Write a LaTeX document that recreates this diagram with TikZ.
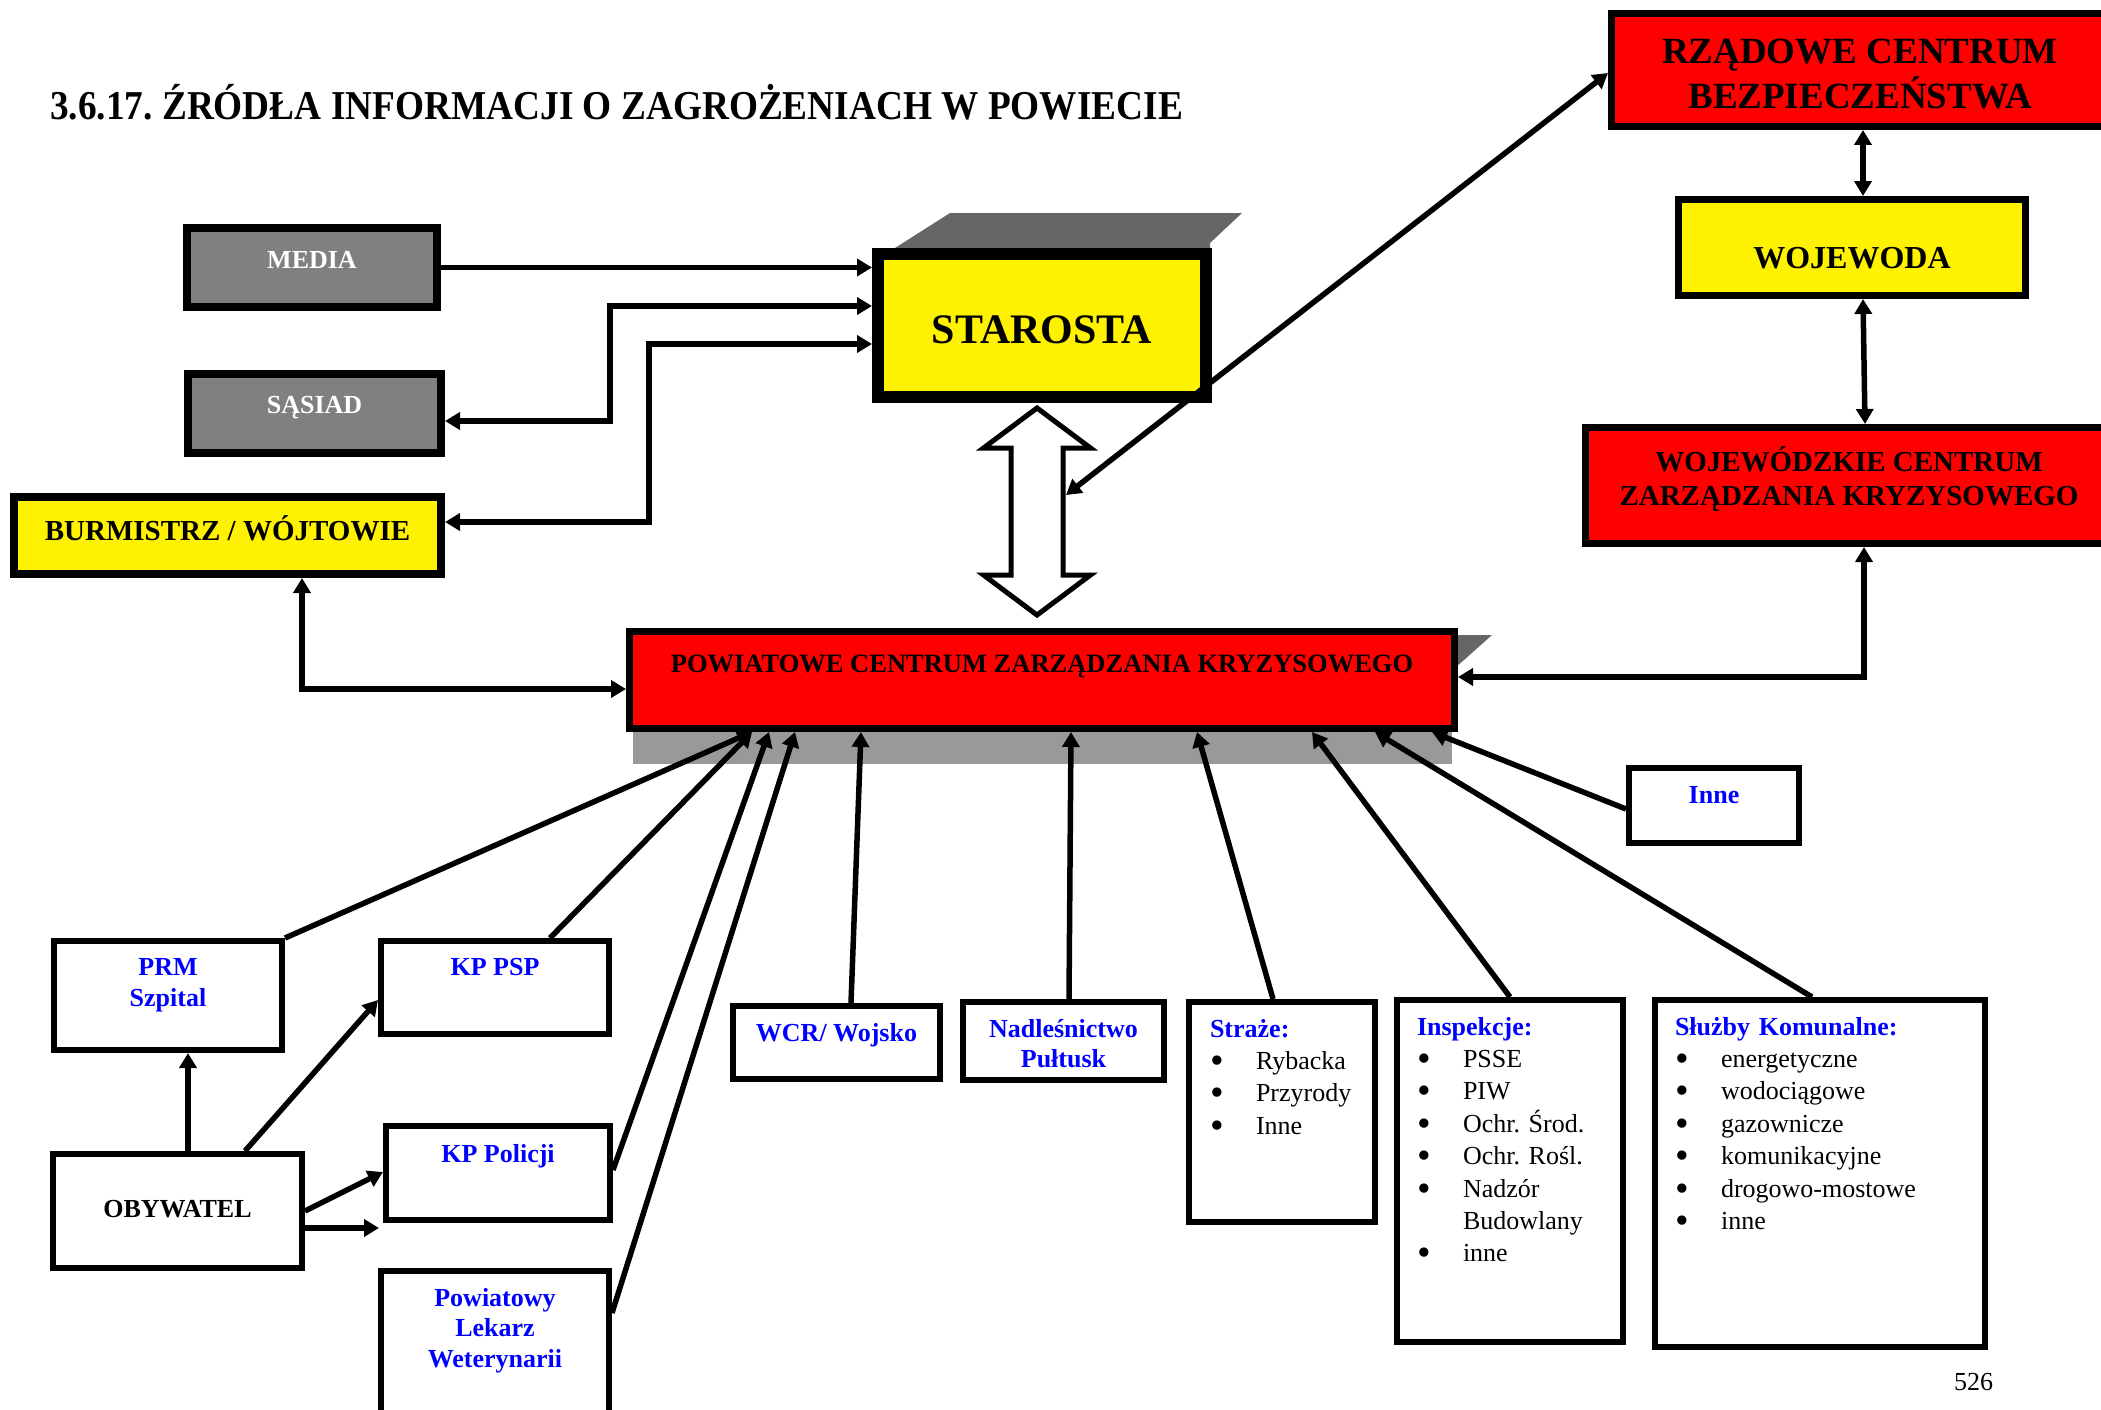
\documentclass[tikz,border=0pt]{standalone}
\usepackage{fontspec}
\setmainfont{Liberation Serif}
\usepackage{graphicx}
\usetikzlibrary{arrows.meta}
\frenchspacing

\newcommand{\fsz}[2]{\fontsize{#1pt}{#2pt}\selectfont}
\newcommand{\boxlines}[1]{\begin{tabular}[t]{@{}c@{}}#1\end{tabular}}
\newcommand{\listlines}[1]{\begin{tabular}[t]{@{}l@{}}#1\end{tabular}}
\newcommand{\listhead}[1]{\textcolor{blue}{\bfseries #1}}
\newcommand{\punkt}[1]{\makebox[46pt][l]{\raisebox{-4pt}{\scalebox{1.5}{\textbullet}}}#1}

\tikzset{
  box/.style={draw, line width=6pt, fill=white, inner sep=0pt, text=blue, font=\fsz{26}{31}\bfseries},
  graybox/.style={box, line width=8pt, fill=black!50, text=white},
  yellowbox/.style={box, line width=8pt, fill=yellow, text=black},
  redbox/.style={box, line width=7pt, fill=red, text=black},
  listbox/.style={box, text=black, align=left, font=\fsz{26}{32.4}},
  arr/.style={line width=5.5pt, -{Triangle[length=15pt,width=17pt]}},
  dbl/.style={line width=5.5pt, {Triangle[length=15pt,width=17pt]}-{Triangle[length=15pt,width=17pt]}},
  hollow/.style={draw, line width=5pt, fill=white},
  shadowdark/.style={fill=black!60},
  shadowlight/.style={fill=black!40}
}

\begin{document}
\begin{tikzpicture}[x=1pt, y=-1pt]
    \useasboundingbox (0,0) rectangle (2101,1410);
    \clip (0,0) rectangle (2101,1410);

    % Title and page number
    \node[anchor=base west, inner sep=0pt, font=\fsz{41}{41}\bfseries] (title) at (50,120)
        {\scalebox{0.91}[1]{3.6.17. ŹRÓDŁA INFORMACJI O ZAGROŻENIACH W POWIECIE}};
    \node[anchor=base west, inner sep=0pt, font=\fsz{26}{26}] (page) at (1954,1390) {526};

    % Shadows
    \fill[shadowdark] (895,248) -- (950,213) -- (1242,213) -- (1210,243) -- (1210,248) -- cycle;
    \fill[shadowlight] (633,728) rectangle (1452,764);
    \fill[shadowdark] (1455,635) -- (1492,635) -- (1455,668) -- cycle;

    % Powiat level
    \node[yellowbox, line width=12pt, minimum width=328pt, text height=89pt, text depth=54pt,
          font=\fsz{42}{42}\bfseries] (star) at (1042,325.5) {STAROSTA};
    \node[graybox, minimum width=250pt, text height=40pt, text depth=39pt] (media) at (312,267.5) {MEDIA};
    \node[graybox, minimum width=253pt, text height=39pt, text depth=40pt] (sasiad) at (314.5,413.5) {SĄSIAD};
    \node[yellowbox, minimum width=427pt, text height=43pt, text depth=34pt,
          font=\fsz{29}{29}\bfseries] (burm) at (227.5,535.5) {BURMISTRZ / WÓJTOWIE};
    \node[redbox, minimum width=825pt, text height=40.5pt, text depth=56.5pt,
          font=\fsz{26.5}{30}\bfseries] (pczk) at (1042,680) {POWIATOWE CENTRUM ZARZĄDZANIA KRYZYSOWEGO};

    % Wojewodztwo level
    \node[redbox, minimum width=497pt, text height=50.5pt, text depth=62.5pt,
          font=\fsz{37}{43}\bfseries] (rcb) at (1860,70) {\boxlines{RZĄDOWE CENTRUM\\BEZPIECZEŃSTWA}};
    \node[yellowbox, line width=7pt, minimum width=347pt, text height=68.5pt, text depth=27.5pt,
          font=\fsz{32}{32}\bfseries] (woj) at (1852,247.5) {WOJEWODA};
    \node[redbox, minimum width=527pt, text height=43.5pt, text depth=72.5pt,
          font=\fsz{29}{34}\bfseries] (wczk) at (1849,485.5) {\boxlines{WOJEWÓDZKIE CENTRUM\\ZARZĄDZANIA KRYZYSOWEGO}};

    % Sources
    \node[box, minimum width=170pt, text height=35pt, text depth=40pt] (inne) at (1714,805.5) {Inne};
    \node[box, minimum width=228pt, text height=34pt, text depth=75pt] (prm) at (168,995.5) {\boxlines{PRM\\Szpital}};
    \node[box, minimum width=228pt, text height=34pt, text depth=59pt] (psp) at (495,987.5) {KP PSP};
    \node[box, minimum width=224pt, text height=36pt, text depth=58pt] (policji) at (498,1173) {KP Policji};
    \node[box, text=black, minimum width=249pt, text height=63pt, text depth=51pt] (obyw) at (177.5,1211) {OBYWATEL};
    \node[box, minimum width=228pt, text height=35pt, text depth=131pt, font=\fsz{26}{30.5}\bfseries]
        (lekarz) at (495,1354) {\boxlines{Powiatowy\\Lekarz\\Weterynarii}};
    \node[box, minimum width=207pt, text height=35pt, text depth=38pt] (wcr) at (836.5,1042.5) {WCR/ Wojsko};
    \node[box, minimum width=201pt, text height=35pt, text depth=43pt, font=\fsz{26}{30}\bfseries]
        (nadl) at (1063.5,1041) {\boxlines{Nadleśnictwo\\Pułtusk}};
    \node[listbox, minimum width=186pt, inner xsep=21pt, text width=144pt, text height=35pt, text depth=185pt]
        (straze) at (1282,1112) {\listlines{\listhead{Straże:}\\ \punkt{Rybacka}\\ \punkt{Przyrody}\\ \punkt{Inne}}};
    \node[listbox, minimum width=226pt, inner xsep=20pt, text width=186pt, text height=35pt, text depth=307pt]
        (insp) at (1510,1171) {\listlines{\listhead{Inspekcje:}\\ \punkt{PSSE}\\ \punkt{PIW}\\ \punkt{Ochr. Środ.}\\
        \punkt{Ochr. Rośl.}\\ \punkt{Nadzór}\\ \makebox[46pt]{}Budowlany\\ \punkt{inne}}};
    \node[listbox, minimum width=330pt, inner xsep=20pt, text width=290pt, text height=35pt, text depth=312pt]
        (sluzby) at (1820,1173.5) {\listlines{\listhead{Służby Komunalne:}\\ \punkt{energetyczne}\\ \punkt{wodociągowe}\\
        \punkt{gazownicze}\\ \punkt{komunikacyjne}\\ \punkt{drogowo-mostowe}\\ \punkt{inne}}};

    % Starosta links
    \draw[arr] (media.east) -- (media.east -| star.west);
    \draw[dbl] ([yshift=19.5pt]star.west) -- ++(-262,0) |- ([yshift=-7.5pt]sasiad.east);
    \draw[dbl] ([yshift=-18.5pt]star.west) -- ++(-223,0) |- ([yshift=13.5pt]burm.east);
    \draw[dbl] ([xshift=74.5pt]burm.south) |- ([yshift=-9pt]pczk.west);

    % Starosta <-> PCZK
    \coordinate (link) at (1037,511.5);
    \draw[hollow, shift={(link)}] (0,-103.5) -- (53.5,-63.5) -- (26,-63.5) -- (26,63.5) -- (53.5,63.5)
        -- (0,103.5) -- (-53.5,63.5) -- (-26,63.5) -- (-26,-63.5) -- (-53.5,-63.5) -- cycle;
    \coordinate (linkside) at (1066,495);
    \draw[dbl] (linkside) -- ([yshift=-3pt]rcb.west);

    % Wojewodztwo links
    \draw[dbl] ([xshift=11pt]woj.north) -- ([xshift=3pt]rcb.south);
    \draw[dbl] ([xshift=11pt]woj.south) -- ([xshift=16pt]wczk.north);
    \draw[dbl] ([xshift=15pt]wczk.south) |- ([yshift=3pt]pczk.east);

    % Sources -> PCZK
    \draw[arr] (prm.north east) -- ([xshift=-290pt]pczk.south);
    \draw[arr] ([xshift=55pt]psp.north) -- ([xshift=-290pt]pczk.south);
    \draw[arr] ([yshift=3pt]policji.east) -- ([xshift=-273pt]pczk.south);
    \draw[arr] ([yshift=41pt]lekarz.east) -- ([xshift=-247pt]pczk.south);
    \draw[arr] ([xshift=14.5pt]wcr.north) -- ([xshift=-181pt]pczk.south);
    \draw[arr] ([xshift=5.5pt]nadl.north) -- ([xshift=29pt]pczk.south);
    \draw[arr] ([xshift=-9pt]straze.north) -- ([xshift=155pt]pczk.south);
    \draw[arr] (insp.north) -- ([xshift=270pt]pczk.south);
    \draw[arr] ([xshift=-8pt]sluzby.north) -- ([xshift=333pt]pczk.south);
    \draw[arr] ([yshift=-3.5pt]inne.west) -- ([xshift=390pt]pczk.south);

    % Obywatel
    \coordinate (obywend) at (379,1228);
    \draw[arr] ([xshift=10.5pt]obyw.north) -- ([xshift=10.5pt]obyw.north |- prm.south);
    \draw[arr] ([xshift=67.5pt]obyw.north) -- ([yshift=-12.5pt]psp.west);
    \draw[arr] (obyw.east) -- ([yshift=1pt]policji.west);
    \draw[arr] ([yshift=-17pt]obyw.east) -- (obywend);
\end{tikzpicture}
\end{document}
